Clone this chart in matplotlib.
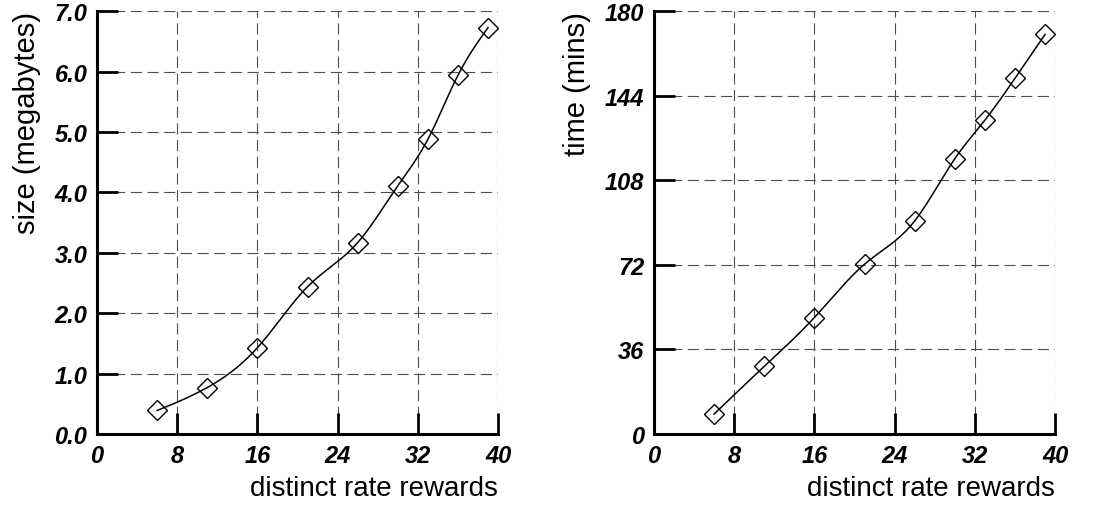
import numpy as np
import matplotlib
matplotlib.use("Agg")
import matplotlib.pyplot as plt

plt.rcParams["font.family"] = ["Liberation Sans", "DejaVu Sans"]

# data
rewards = [6, 11, 16, 21, 26, 30, 33, 36, 39]
size_mb = [0.39, 0.77, 1.43, 2.44, 3.17, 4.11, 4.88, 5.94, 6.73]
time_min = [8.5, 28.8, 49.6, 72.3, 90.7, 117.2, 133.6, 151.4, 170.1]
xticks = [0, 8, 16, 24, 32, 40]
size_ticks = [0, 1, 2, 3, 4, 5, 6, 7]
time_ticks = [0, 36, 72, 108, 144, 180]


def spline(x, y, n=300):
    # natural cubic spline through the points, for the smooth line only
    x = np.asarray(x, float); y = np.asarray(y, float)
    k = len(x); h = np.diff(x)
    A = np.zeros((k, k)); b = np.zeros(k)
    A[0, 0] = A[-1, -1] = 1
    for i in range(1, k - 1):
        A[i, i - 1] = h[i - 1]; A[i, i] = 2 * (h[i - 1] + h[i]); A[i, i + 1] = h[i]
        b[i] = 6 * ((y[i + 1] - y[i]) / h[i] - (y[i] - y[i - 1]) / h[i - 1])
    M = np.linalg.solve(A, b)
    xs = np.linspace(x[0], x[-1], n)
    j = np.clip(np.searchsorted(x, xs) - 1, 0, k - 2)
    t0, t1, hj = xs - x[j], x[j + 1] - xs, h[j]
    ys = (M[j] * t1 ** 3 + M[j + 1] * t0 ** 3) / (6 * hj) \
        + (y[j] / hj - M[j] * hj / 6) * t1 + (y[j + 1] / hj - M[j + 1] * hj / 6) * t0
    return xs, ys


fig = plt.figure(figsize=(10.99, 5.10), dpi=100)
ax1 = fig.add_axes([0.0883, 0.147, 0.3649, 0.829])
ax2 = fig.add_axes([0.595, 0.147, 0.365, 0.829])

panels = [(ax1, size_mb, size_ticks, "size (megabytes)", lambda v: f"{v:.1f}"),
          (ax2, time_min, time_ticks, "time (mins)", lambda v: f"{v:d}")]

for ax, ys, yt, ylab, fmt in panels:
    sx, sy = spline(rewards, ys)
    ax.plot(sx, sy, color="black", lw=1.1, zorder=3)
    ax.plot(rewards, ys, ls="none", marker="D", ms=10.5, mfc="none",
            mec="black", mew=1.0, zorder=4)
    ax.set_xlim(0, 40); ax.set_ylim(yt[0], yt[-1])
    ax.set_xticks(xticks); ax.set_yticks(yt)
    ax.set_xticklabels([str(v) for v in xticks])
    ax.set_yticklabels([fmt(v) for v in yt])
    for lab in ax.get_xticklabels() + ax.get_yticklabels():
        lab.set_fontweight("bold"); lab.set_fontstyle("italic"); lab.set_fontsize(17)
    ax.tick_params(direction="in", length=15, width=2, pad=7)
    ax.grid(True, color="0.3", lw=0.8, ls=(0, (10, 5)))
    ax.set_axisbelow(True)
    for s in ("top", "right"):
        ax.spines[s].set_visible(False)
    for s in ("left", "bottom"):
        ax.spines[s].set_linewidth(2.2)
    ax.set_xlabel("distinct rate rewards", fontsize=20, loc="right", labelpad=6)
    ax.set_ylabel(ylab, fontsize=21, loc="top", labelpad=10)

fig.savefig("out.png", dpi=100)
